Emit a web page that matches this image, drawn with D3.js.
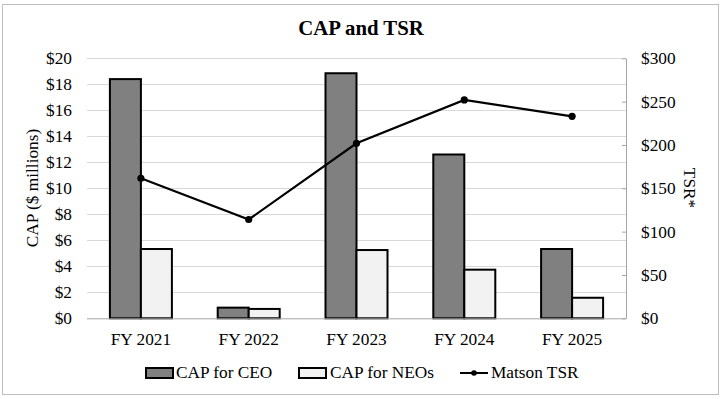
<!DOCTYPE html>
<html>
<head>
<meta charset="utf-8">
<script src="https://cdn.jsdelivr.net/npm/d3@7"></script>
<style>
	body { margin: 0; background: #fff; }
	svg { display: block; font-family: "Liberation Serif", "Times New Roman", serif; }
</style>
</head>
<body>
<svg width="722" height="399"></svg>
<script>
const years = ["FY 2021", "FY 2022", "FY 2023", "FY 2024", "FY 2025"]
const capCeo = [18.4, 0.82, 18.85, 12.6, 5.33]
const capNeo = [5.33, 0.72, 5.25, 3.74, 1.58]
const tsr = [161.5, 114, 202, 252, 233]
const leftTicks = [0, 2, 4, 6, 8, 10, 12, 14, 16, 18, 20]
const rightTicks = [0, 50, 100, 150, 200, 250, 300]

const svg = d3.select("svg")
const m = { left: 87, right: 626, top: 58.3, bottom: 318.3 }
const fs = "17.3px"

// chart frame
svg.append("rect")
	.attr("x", 2.5).attr("y", 4.5).attr("width", 716).attr("height", 390)
	.attr("fill", "#fff").attr("stroke", "#bfbfbf").attr("stroke-width", 1)

svg.append("text")
	.attr("x", 361).attr("y", 35)
	.attr("text-anchor", "middle")
	.style("font-size", "20.8px").style("font-weight", "bold")
	.text("CAP and TSR")

var x = d3.scaleBand().domain(years).range([m.left, m.right]).paddingInner(0).paddingOuter(0)
var xs = d3.scaleBand().domain(["ceo", "neo"]).range([0, 62])
var y = d3.scaleLinear().domain([0, 20]).range([m.bottom, m.top])
var y2 = d3.scaleLinear().domain([0, 300]).range([m.bottom, m.top])

// gridlines
svg.append("g").selectAll("line")
	.data(leftTicks.slice(1))
	.enter().append("line")
	.attr("x1", m.left).attr("x2", m.right)
	.attr("y1", d => Math.round(y(d)) + 0.5).attr("y2", d => Math.round(y(d)) + 0.5)
	.attr("stroke", "#d9d9d9").attr("stroke-width", 1)

// left axis
var leftAxis = svg.append("g")
	.attr("transform", `translate(${m.left},0)`)
	.call(d3.axisLeft(y).tickValues(leftTicks).tickFormat(d => "$" + d).tickSize(0).tickPadding(15))
leftAxis.attr("font-family", null).attr("font-size", null)
leftAxis.select(".domain").remove()
leftAxis.selectAll("text").style("font-size", fs).style("fill", "#000")

// right axis
var rightAxis = svg.append("g")
	.attr("transform", `translate(${m.right},0)`)
	.call(d3.axisRight(y2).tickValues(rightTicks).tickFormat(d => "$" + d).tickSizeInner(-4).tickSizeOuter(0).tickPadding(15))
rightAxis.attr("font-family", null).attr("font-size", null)
rightAxis.select(".domain").attr("stroke", "#a6a6a6")
rightAxis.selectAll(".tick line").attr("stroke", "#a6a6a6")
rightAxis.selectAll("text").style("font-size", fs).style("fill", "#000")

// bars
var groups = svg.append("g").selectAll("g")
	.data(years)
	.enter().append("g")
	.attr("transform", d => `translate(${x(d) + (x.bandwidth() - 62) / 2},0)`)

groups.append("rect")
	.attr("x", xs("ceo")).attr("width", xs.bandwidth())
	.attr("y", (d, i) => y(capCeo[i])).attr("height", (d, i) => y(0) - y(capCeo[i]))
	.attr("fill", "#808080").attr("stroke", "#000").attr("stroke-width", 2)

groups.append("rect")
	.attr("x", xs("neo")).attr("width", xs.bandwidth())
	.attr("y", (d, i) => y(capNeo[i])).attr("height", (d, i) => y(0) - y(capNeo[i]))
	.attr("fill", "#f2f2f2").attr("stroke", "#000").attr("stroke-width", 2)

// bottom axis
svg.append("line")
	.attr("x1", m.left).attr("x2", m.right)
	.attr("y1", m.bottom + 0.5).attr("y2", m.bottom + 0.5)
	.attr("stroke", "#a6a6a6")

svg.append("g").selectAll("text")
	.data(years)
	.enter().append("text")
	.attr("x", d => x(d) + x.bandwidth() / 2)
	.attr("y", 345)
	.attr("text-anchor", "middle")
	.style("font-size", fs)
	.text(d => d)

// TSR line
var line = d3.line()
	.x((d, i) => x(years[i]) + x.bandwidth() / 2)
	.y(d => y2(d))

svg.append("path")
	.datum(tsr)
	.attr("d", line)
	.attr("fill", "none").attr("stroke", "#000").attr("stroke-width", 2.2)

svg.append("g").selectAll("circle")
	.data(tsr)
	.enter().append("circle")
	.attr("cx", (d, i) => x(years[i]) + x.bandwidth() / 2)
	.attr("cy", d => y2(d))
	.attr("r", 3.6)
	.attr("fill", "#000")

// axis titles
svg.append("text")
	.attr("transform", "translate(38,188) rotate(-90)")
	.attr("text-anchor", "middle")
	.style("font-size", fs)
	.text("CAP ($ millions)")

svg.append("text")
	.attr("transform", "translate(684,188) rotate(90)")
	.attr("text-anchor", "middle")
	.style("font-size", fs)
	.text("TSR*")

// legend
var legend = svg.append("g")
legend.append("rect").attr("x", 146).attr("y", 368).attr("width", 27).attr("height", 10)
	.attr("fill", "#808080").attr("stroke", "#000").attr("stroke-width", 2)
legend.append("text").attr("x", 176).attr("y", 378).style("font-size", fs).text("CAP for CEO")
legend.append("rect").attr("x", 299).attr("y", 368).attr("width", 27).attr("height", 10)
	.attr("fill", "#f2f2f2").attr("stroke", "#000").attr("stroke-width", 2)
legend.append("text").attr("x", 330).attr("y", 378).style("font-size", fs).text("CAP for NEOs")
legend.append("line").attr("x1", 460).attr("x2", 488).attr("y1", 373).attr("y2", 373)
	.attr("stroke", "#000").attr("stroke-width", 2)
legend.append("circle").attr("cx", 474).attr("cy", 373).attr("r", 2.8).attr("fill", "#000")
legend.append("text").attr("x", 491).attr("y", 378).style("font-size", fs).text("Matson TSR")
</script>
</body>
</html>
